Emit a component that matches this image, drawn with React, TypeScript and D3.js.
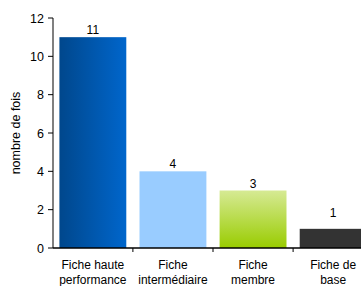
import React from 'react'
import * as d3 from 'd3'

const categories = ['Fiche haute|performance', 'Fiche|intermédiaire', 'Fiche|membre', 'Fiche de|base']
const values = [11, 4, 3, 1]
const yTicks = [0, 2, 4, 6, 8, 10, 12]
const fills = ['url(#gBlue)', '#99CCFF', 'url(#gGreen)', '#333333']
const labelGap = [3, 3, 3, 12]

const width = 361
const height = 286
const margin = { left: 53, top: 18, right: -12, bottom: 38 }
const innerHeight = height - margin.top - margin.bottom

const x = d3
  .scaleBand()
  .domain(categories)
  .range([margin.left, width - margin.right])
  .paddingInner(0.165)
  .paddingOuter(0.08)

const y = d3.scaleLinear().domain([0, 12]).range([margin.top + innerHeight, margin.top])

const font = 'Liberation Sans, Arial, sans-serif'

export default function App() {
  const step = x.step()
  const y0 = y(0)
  return (
    <svg
      width={width}
      height={height}
      style={{ position: 'absolute', left: 0, top: 0, background: '#fff' }}
      fontFamily={font}
    >
      <defs>
        <linearGradient id="gBlue" x1="0" x2="1" y1="0" y2="0">
          <stop offset="0" stopColor="#00478C" />
          <stop offset="1" stopColor="#0066CC" />
        </linearGradient>
        <linearGradient id="gGreen" x1="0" x2="0" y1="0" y2="1">
          <stop offset="0" stopColor="#D6EA94" />
          <stop offset="1" stopColor="#99CC00" />
        </linearGradient>
      </defs>

      {categories.map((c, i) => (
        <g key={c}>
          <rect
            x={x(c)}
            y={y(values[i])}
            width={x.bandwidth()}
            height={y0 - y(values[i])}
            fill={fills[i]}
          />
          <text
            x={(x(c) as number) + x.bandwidth() / 2}
            y={y(values[i]) - labelGap[i]}
            textAnchor="middle"
            fontSize={12}
            fill="#000"
          >
            {values[i]}
          </text>
          {c.split('|').map((line, j) => (
            <text
              key={j}
              x={(x(c) as number) + x.bandwidth() / 2}
              y={y0 + 21 + j * 14.5}
              textAnchor="middle"
              fontSize={12}
              fill="#000"
            >
              {line}
            </text>
          ))}
        </g>
      ))}

      {/* y axis */}
      <line x1={margin.left} x2={margin.left} y1={y(12)} y2={y0} stroke="#808080" strokeWidth={2} />
      {yTicks.map(t => (
        <g key={t}>
          <line x1={margin.left - 5} x2={margin.left} y1={y(t)} y2={y(t)} stroke="#000" strokeWidth={1} />
          <text x={margin.left - 9} y={y(t) + 4.5} textAnchor="end" fontSize={12.5} fill="#000">
            {t}
          </text>
        </g>
      ))}

      {/* x axis */}
      <line x1={margin.left} x2={width} y1={y0} y2={y0} stroke="#000" strokeWidth={1.5} />
      {categories.slice(1).map(c => (
        <line
          key={c}
          x1={(x(c) as number) - (step - x.bandwidth()) / 2}
          x2={(x(c) as number) - (step - x.bandwidth()) / 2}
          y1={y0}
          y2={y0 + 4}
          stroke="#000"
        />
      ))}

      <text
        transform={`translate(20, ${y(6)}) rotate(-90)`}
        textAnchor="middle"
        fontSize={12.5}
        fill="#000"
      >
        nombre de fois
      </text>
    </svg>
  )
}
